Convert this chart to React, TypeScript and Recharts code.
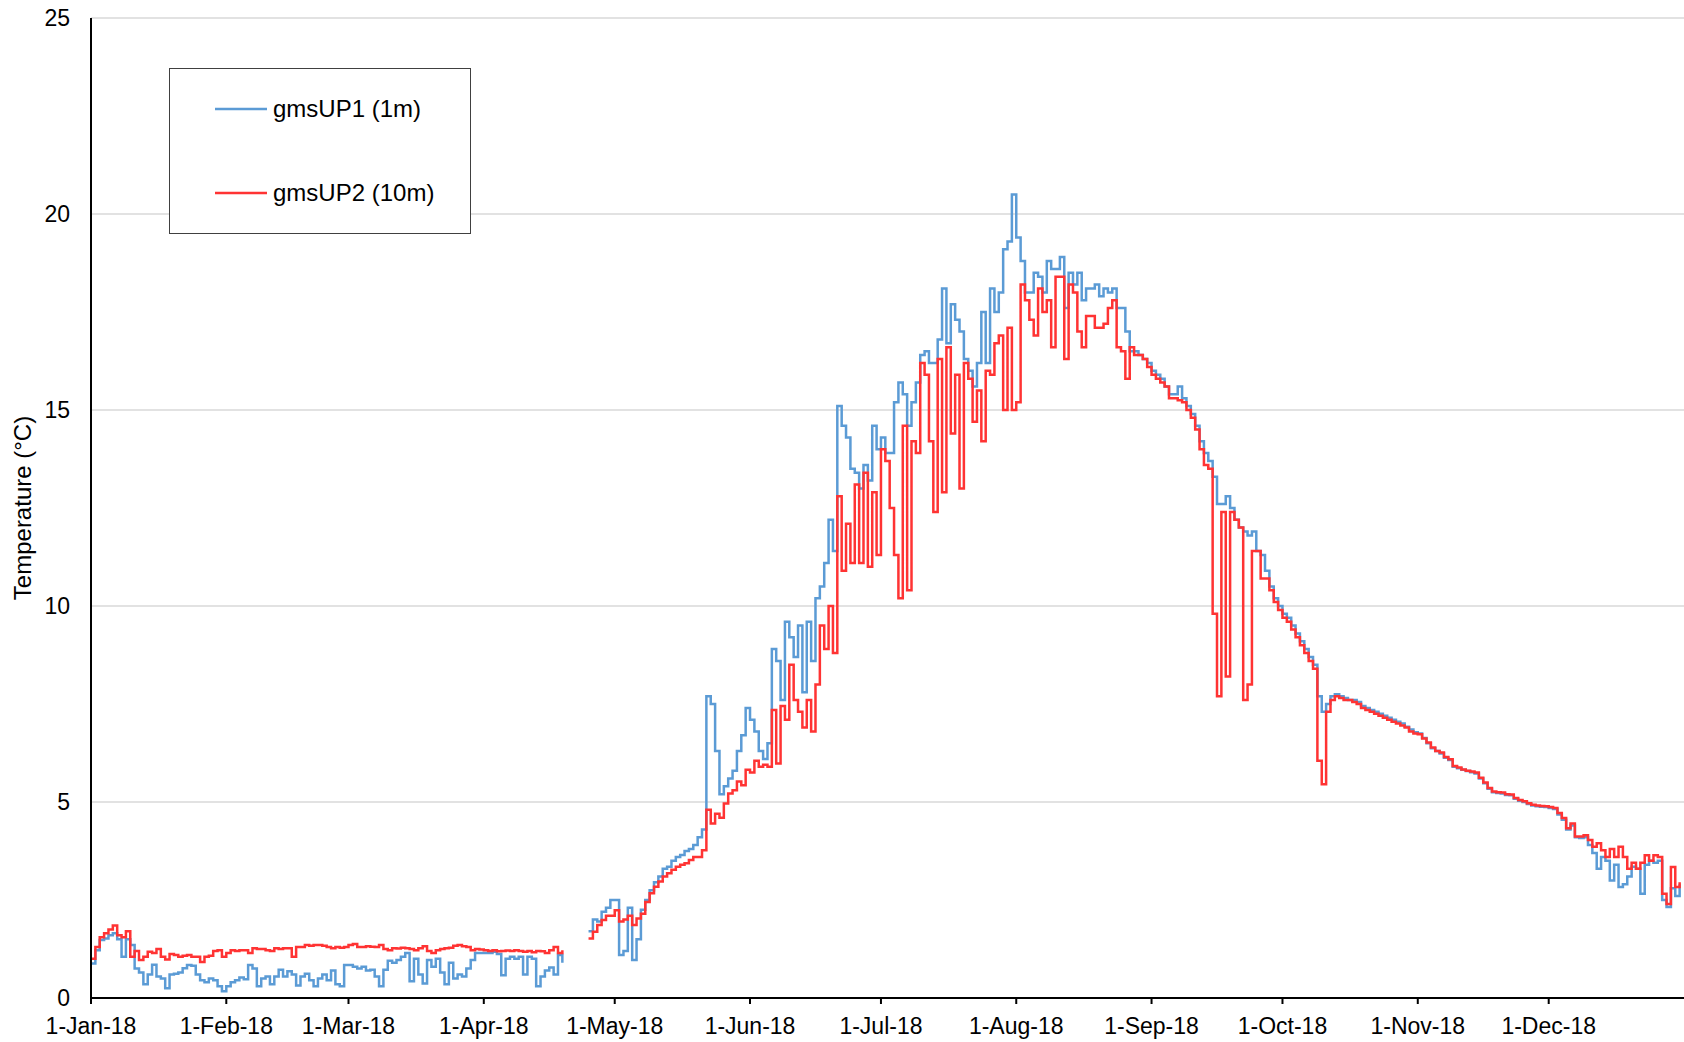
import { LineChart, Line, XAxis, YAxis, CartesianGrid, Legend } from "recharts"

const FONT = "'Liberation Sans', Arial, sans-serif"

// x axis: day of 2018 (0 = 1 Jan), ticks on the first of each month
const MONTH_TICKS = [0, 31, 59, 90, 120, 151, 181, 212, 243, 273, 304, 334]
const MONTH_LABELS = [
  "1-Jan-18", "1-Feb-18", "1-Mar-18", "1-Apr-18", "1-May-18", "1-Jun-18",
  "1-Jul-18", "1-Aug-18", "1-Sep-18", "1-Oct-18", "1-Nov-18", "1-Dec-18",
]
const TEMP_TICKS = [0, 5, 10, 15, 20, 25]

const GAP = [null, null, null, null, null]

// gmsUP1 (1m), one value per day, °C
const UP1: (number | null)[] = [
  // Jan
  0.88, 1.22, 1.48, 1.52, 1.6, 1.65, 1.5, 1.05, 1.5, 1.35, 0.75, 0.65, 0.35, 0.6, 0.85, 0.55,
  0.5, 0.25, 0.6, 0.62, 0.65, 0.76, 0.84, 0.82, 0.6, 0.45, 0.4, 0.5, 0.45, 0.3, 0.17,
  // Feb
  0.3, 0.4, 0.45, 0.52, 0.48, 0.84, 0.75, 0.3, 0.5, 0.55, 0.35, 0.55, 0.72, 0.55, 0.68, 0.6,
  0.32, 0.55, 0.62, 0.45, 0.3, 0.5, 0.6, 0.45, 0.7, 0.35, 0.3, 0.84,
  // Mar
  0.84, 0.8, 0.75, 0.8, 0.7, 0.72, 0.55, 0.3, 0.72, 0.95, 0.9, 0.97, 1.05, 1.15, 0.43, 1.0,
  0.6, 0.37, 0.97, 0.8, 1.0, 0.65, 0.35, 0.9, 0.5, 0.6, 0.55, 0.75, 0.97, 1.15, 1.15,
  // Apr
  1.15, 1.15, 1.18, 1.12, 0.58, 1.0, 1.05, 1.0, 1.05, 0.6, 1.05, 1.0, 0.3, 0.55, 0.7, 0.78,
  0.6, 1.1, 0.9, ...GAP, 1.7, 2.0, 1.95, 2.2, 2.3, 2.5,
  // May
  2.5, 1.1, 1.2, 2.3, 0.97, 1.5, 2.25, 2.5, 2.75, 2.95, 3.1, 3.3, 3.35, 3.5, 3.6, 3.65,
  3.75, 3.8, 3.9, 4.1, 4.3, 7.7, 7.5, 6.3, 5.2, 5.4, 5.6, 5.8, 6.3, 6.7, 7.4,
  // Jun
  7.1, 6.8, 6.3, 6.1, 6.5, 8.9, 8.6, 7.6, 9.6, 9.2, 8.7, 9.5, 7.8, 9.6, 8.6, 10.2,
  10.5, 11.1, 12.2, 11.4, 15.1, 14.6, 14.3, 13.5, 13.4, 13.0, 13.6, 13.2, 14.6, 14.0,
  // Jul
  14.3, 13.9, 13.9, 15.2, 15.7, 15.4, 14.6, 15.2, 15.7, 16.4, 16.5, 16.2, 16.2, 16.8, 18.1, 16.7,
  17.7, 17.3, 17.0, 16.3, 16.0, 15.6, 16.2, 17.5, 16.2, 18.1, 17.5, 18.0, 19.1, 19.3, 20.5,
  // Aug
  19.4, 18.8, 18.0, 18.0, 18.5, 18.4, 18.0, 18.8, 18.6, 18.6, 18.9, 17.6, 18.5, 18.2, 18.5, 17.8,
  18.1, 18.1, 18.2, 17.9, 18.1, 18.0, 18.1, 17.6, 17.6, 17.0, 16.5, 16.5, 16.4, 16.3, 16.2,
  // Sep
  16.0, 15.9, 15.8, 15.6, 15.4, 15.4, 15.6, 15.3, 15.1, 14.9, 14.6, 14.2, 13.9, 13.7, 13.3, 12.6,
  12.6, 12.8, 12.5, 12.2, 12.0, 11.9, 11.8, 11.9, 11.4, 11.3, 10.9, 10.5, 10.2, 10.0,
  // Oct
  9.8, 9.7, 9.5, 9.3, 9.1, 8.9, 8.7, 8.5, 7.7, 7.3, 7.5, 7.7, 7.75, 7.7, 7.65, 7.6,
  7.6, 7.55, 7.45, 7.4, 7.35, 7.3, 7.25, 7.2, 7.15, 7.1, 7.05, 7.0, 6.92, 6.85, 6.78,
  // Nov
  6.75, 6.63, 6.5, 6.37, 6.3, 6.24, 6.13, 6.07, 5.9, 5.86, 5.82, 5.79, 5.76, 5.73, 5.6, 5.48,
  5.34, 5.25, 5.23, 5.22, 5.18, 5.17, 5.08, 5.03, 5.0, 4.95, 4.91, 4.89, 4.88, 4.87,
  // Dec
  4.85, 4.82, 4.68, 4.55, 4.3, 4.4, 4.1, 4.08, 4.1, 3.9, 3.7, 3.3, 3.6, 3.5, 3.0, 3.4,
  2.83, 2.9, 3.1, 3.35, 3.3, 2.66, 3.4, 3.5, 3.45, 3.5, 2.5, 2.32, 2.8, 2.6, 2.9,
]

// gmsUP2 (10m), one value per day, °C
const UP2: (number | null)[] = [
  // Jan
  1.0, 1.3, 1.55, 1.65, 1.75, 1.85, 1.6, 1.55, 1.7, 1.05, 1.2, 0.97, 1.05, 1.18, 1.15, 1.25,
  1.05, 0.98, 1.12, 1.1, 1.05, 1.08, 1.1, 1.05, 1.05, 0.92, 1.05, 1.08, 1.2, 1.22, 1.05,
  // Feb
  1.15, 1.22, 1.2, 1.22, 1.22, 1.15, 1.27, 1.25, 1.25, 1.22, 1.2, 1.27, 1.25, 1.27, 1.27, 1.05,
  1.3, 1.3, 1.35, 1.33, 1.35, 1.35, 1.33, 1.3, 1.27, 1.3, 1.28, 1.3,
  // Mar
  1.35, 1.38, 1.3, 1.3, 1.32, 1.31, 1.3, 1.35, 1.25, 1.22, 1.27, 1.26, 1.28, 1.27, 1.25, 1.22,
  1.27, 1.32, 1.2, 1.15, 1.22, 1.25, 1.27, 1.28, 1.33, 1.35, 1.32, 1.3, 1.22, 1.25, 1.24,
  // Apr
  1.22, 1.2, 1.22, 1.19, 1.2, 1.21, 1.2, 1.22, 1.2, 1.18, 1.2, 1.17, 1.2, 1.19, 1.15, 1.22,
  1.3, 1.15, 1.22, ...GAP, 1.52, 1.69, 1.86, 1.99, 2.1, 2.1,
  // May
  2.24, 1.95, 2.0, 2.1, 1.86, 2.03, 2.15, 2.45, 2.67, 2.84, 2.97, 3.1, 3.18, 3.27, 3.35, 3.4,
  3.44, 3.52, 3.6, 3.6, 3.77, 4.8, 4.45, 4.7, 4.6, 4.96, 5.22, 5.3, 5.52, 5.43, 5.82,
  // Jun
  5.75, 6.05, 5.9, 5.95, 5.9, 7.35, 5.98, 7.45, 7.1, 8.5, 7.6, 7.3, 6.9, 7.6, 6.8, 8.0,
  9.5, 8.9, 10.0, 8.8, 12.8, 10.9, 12.1, 11.1, 13.1, 11.1, 13.4, 11.0, 12.9, 11.3,
  // Jul
  14.0, 13.7, 12.5, 11.3, 10.2, 14.6, 10.4, 14.2, 13.9, 16.2, 15.9, 14.2, 12.4, 16.3, 12.9, 16.6,
  14.4, 15.9, 13.0, 16.2, 15.8, 14.7, 15.5, 14.2, 16.0, 15.9, 16.7, 16.9, 15.0, 17.1, 15.0,
  // Aug
  15.2, 18.2, 17.8, 17.3, 16.9, 18.1, 17.5, 17.8, 16.6, 18.4, 18.4, 16.3, 18.2, 18.0, 17.0, 16.6,
  17.4, 17.4, 17.1, 17.1, 17.2, 17.6, 17.8, 16.6, 16.5, 15.8, 16.6, 16.4, 16.4, 16.3, 16.1,
  // Sep
  15.9, 15.8, 15.7, 15.6, 15.3, 15.3, 15.25, 15.2, 15.0, 14.8, 14.5, 14.0, 13.6, 13.5, 9.8, 7.7,
  12.4, 8.2, 12.4, 12.2, 12.0, 7.6, 8.0, 11.4, 11.4, 10.7, 10.7, 10.4, 10.1, 9.9,
  // Oct
  9.7, 9.6, 9.4, 9.2, 9.0, 8.8, 8.6, 8.4, 6.05, 5.45, 7.3, 7.6, 7.7, 7.65, 7.6, 7.6,
  7.55, 7.5, 7.4, 7.35, 7.3, 7.25, 7.2, 7.15, 7.1, 7.05, 7.0, 6.95, 6.9, 6.8, 6.75,
  // Nov
  6.73, 6.62, 6.52, 6.39, 6.3, 6.26, 6.15, 6.09, 5.92, 5.88, 5.83, 5.8, 5.78, 5.75, 5.62, 5.5,
  5.36, 5.27, 5.25, 5.24, 5.2, 5.19, 5.1, 5.05, 5.02, 4.97, 4.93, 4.91, 4.9, 4.89,
  // Dec
  4.87, 4.85, 4.72, 4.59, 4.33, 4.45, 4.12, 4.12, 4.15, 4.03, 3.86, 3.95, 3.77, 3.6, 3.8, 3.6,
  3.86, 3.6, 3.3, 3.45, 3.3, 3.45, 3.64, 3.5, 3.64, 3.6, 2.66, 2.4, 3.34, 2.83, 2.95,
]

const C = { up1: "#5b9bd5", up2: "#ff3333", grid: "#d9d9d9", axis: "#000000" }

const rows = UP1.map((v, day) => ({ day, up1: v, up2: UP2[day] }))

function LegendBox({ payload }: any) {
  const items = (payload || []) as { value: string; color: string }[]
  return (
    <div style={{ width: 302, height: 166, boxSizing: "border-box", border: "1.5px solid #404040", background: "#fff" }}>
      <svg width={299} height={163}>
        {items.map((it, i) => (
          <g key={it.value} transform={`translate(0, ${40 + i * 84})`}>
            <line x1={45} x2={97} y1={0} y2={0} stroke={it.color} strokeWidth={2.5} />
            <text x={103} y={0} dy="0.35em" fontSize={24} fontFamily={FONT} fill="#000">{it.value}</text>
          </g>
        ))}
      </svg>
    </div>
  )
}

export default function App() {
  return (
    <div style={{ position: "absolute", left: 0, top: 0, width: 1684, height: 1042, background: "#fff" }}>
      <LineChart width={1684} height={1042} data={rows} margin={{ top: 18, right: 0, bottom: 0, left: 0 }}>
        <CartesianGrid horizontal vertical={false} stroke={C.grid} strokeWidth={1.5} />
        <XAxis
          dataKey="day" type="number" domain={[0, 365]} ticks={MONTH_TICKS} interval={0}
          tickFormatter={(v: number) => MONTH_LABELS[MONTH_TICKS.indexOf(v)]}
          height={44} tickSize={6} tickMargin={14}
          axisLine={{ stroke: C.axis, strokeWidth: 2 }} tickLine={{ stroke: C.axis, strokeWidth: 2 }}
          tick={{ fill: "#000", fontSize: 23, fontFamily: FONT }}
        />
        <YAxis
          type="number" domain={[0, 25]} ticks={TEMP_TICKS} interval={0} width={91}
          tickLine={false} tickSize={6} tickMargin={15}
          axisLine={{ stroke: C.axis, strokeWidth: 2 }}
          tick={{ fill: "#000", fontSize: 23, fontFamily: FONT }}
          label={{
            content: ({ viewBox }: any) => (
              <text
                transform={`translate(${viewBox.x + 22}, ${viewBox.y + viewBox.height / 2}) rotate(-90)`}
                textAnchor="middle" dominantBaseline="central" fontSize={24} fontFamily={FONT} fill="#000"
              >
                Temperature (°C)
              </text>
            ),
          }}
        />
        <Legend
          layout="vertical" align="center" verticalAlign="middle"
          wrapperStyle={{ left: 169, top: 68, width: 302, height: 166 }}
          content={(p: any) => <LegendBox payload={p.payload} />}
        />
        <Line type="stepAfter" dataKey="up1" name="gmsUP1 (1m)" stroke={C.up1} strokeWidth={2.5} dot={false} activeDot={false} isAnimationActive={false} />
        <Line type="stepAfter" dataKey="up2" name="gmsUP2 (10m)" stroke={C.up2} strokeWidth={2.5} dot={false} activeDot={false} isAnimationActive={false} />
      </LineChart>
    </div>
  )
}
